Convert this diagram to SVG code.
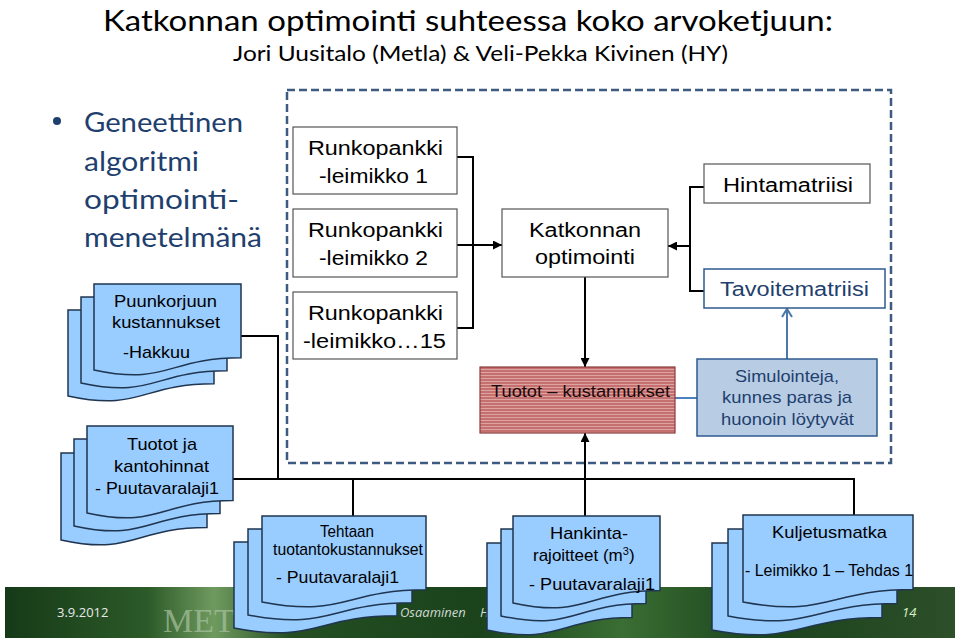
<svg xmlns="http://www.w3.org/2000/svg" width="959" height="642" viewBox="0 0 959 642">
<style>
.ttl{font-family:Lato,"Open Sans",sans-serif;fill:#000}
.bul{font-family:Lato,"Open Sans",sans-serif;fill:#1f3f6e;font-size:26px}
.doc{fill:#99ccff;stroke:#1f3550;stroke-width:1.5}
.dt{font-family:"Liberation Sans",Arial,sans-serif;fill:#000;font-size:17px}
.bx{fill:#fff;stroke:#555;stroke-width:1.2}
.bt{font-family:"Liberation Sans",Arial,sans-serif;fill:#000;font-size:20px}
.ln{fill:none;stroke:#000;stroke-width:2}
.ft{font-family:"Open Sans","Noto Sans",sans-serif;font-size:13px}
</style>
<defs>
<marker id="ah" markerUnits="userSpaceOnUse" markerWidth="9" markerHeight="9" refX="9" refY="4.5" orient="auto"><path d="M0,0 L9,4.5 L0,9 z" fill="#000"/></marker>
<marker id="ab" markerUnits="userSpaceOnUse" markerWidth="12" markerHeight="12" refX="10" refY="6" orient="auto"><path d="M2,1 L10,6 L2,11" fill="none" stroke="#4a78aa" stroke-width="2"/></marker>
<pattern id="stripe" width="4" height="3" patternUnits="userSpaceOnUse"><rect width="4" height="3" fill="#c66f6f"/><rect width="4" height="1" fill="#dca3a3"/></pattern>
<linearGradient id="foot" x1="0" x2="1" y1="0" y2="0">
<stop offset="0" stop-color="#163a18"/><stop offset="0.15" stop-color="#2c5a28"/><stop offset="0.22" stop-color="#6f9a5f"/><stop offset="0.3" stop-color="#244e22"/><stop offset="0.5" stop-color="#1a431c"/><stop offset="0.65" stop-color="#3a6e33"/><stop offset="0.8" stop-color="#1a431c"/><stop offset="1" stop-color="#2d4f2a"/>
</linearGradient>
</defs>
<rect width="959" height="642" fill="#fff"/>

<g id="footer">
<rect x="5" y="587" width="950" height="51" fill="url(#foot)"/>
<text class="ft" x="57" y="617" fill="#e8e8e8">3.9.2012</text>
<text x="163" y="632" font-family="'Liberation Serif',serif" font-size="34" fill="#a9c2a0" opacity="0.7">MET</text>
<text class="ft" x="400" y="617" fill="#d0d8d0" font-style="italic">Osaaminen</text>
<text class="ft" x="480" y="617" fill="#d0d8d0" font-style="italic">H</text>
<text class="ft" x="902" y="617" fill="#d8f0c8" font-style="italic">14</text>
</g>

<g id="title">
<text class="ttl" x="103" y="31" font-size="28" textLength="730" lengthAdjust="spacingAndGlyphs">Katkonnan optimointi suhteessa koko arvoketjuun:</text>
<text class="ttl" x="233" y="61" font-size="21" textLength="495" lengthAdjust="spacingAndGlyphs">Jori Uusitalo (Metla) &amp; Veli-Pekka Kivinen (HY)</text>
</g>

<g id="bullet">
<circle cx="57" cy="121" r="4" fill="#1f3f6e"/>
<text class="bul" x="84" y="132" textLength="159" lengthAdjust="spacingAndGlyphs">Geneettinen</text>
<text class="bul" x="84" y="171" textLength="115" lengthAdjust="spacingAndGlyphs">algoritmi</text>
<text class="bul" x="84" y="209" textLength="155" lengthAdjust="spacingAndGlyphs">optimointi-</text>
<text class="bul" x="84" y="247" textLength="178" lengthAdjust="spacingAndGlyphs">menetelmänä</text>
</g>

<rect id="frame" x="287" y="90" width="604" height="373" fill="none" stroke="#3d5a80" stroke-width="2.5" stroke-dasharray="8 4"/>

<g id="connectors">
<path class="ln" d="M457 157 H473 V328 H457"/>
<path class="ln" d="M457 245 H502" marker-end="url(#ah)"/>
<path class="ln" d="M704 187 H690 V291 H704"/>
<path class="ln" d="M690 246 H668" marker-end="url(#ah)"/>
<path class="ln" d="M585 277 V367" marker-end="url(#ah)"/>
<path class="ln" d="M585 516 V433" marker-end="url(#ah)"/>
<path d="M675 398 H697" fill="none" stroke="#4f81bd" stroke-width="2"/>
<path d="M787 359 V309" fill="none" stroke="#4a78aa" stroke-width="2" marker-end="url(#ab)"/>
<path class="ln" d="M241 336 H278 V479"/>
<path class="ln" d="M233 479 H854 V515"/>
<path class="ln" d="M353 479 V516"/>
</g>

<g id="puunkorjuu">
<path class="doc" d="M68 310 H214 V383.8 C141 383.8 141 411.9 68 395.9 Z"/>
<path class="doc" d="M81 297 H227 V370.8 C154 370.8 154 398.9 81 382.9 Z"/>
<path class="doc" d="M94 284 H241 V357.8 C167.5 357.8 167.5 385.9 94 369.9 Z"/>
<text class="dt" x="114" y="307" textLength="103" lengthAdjust="spacingAndGlyphs">Puunkorjuun</text>
<text class="dt" x="112" y="328" textLength="108" lengthAdjust="spacingAndGlyphs">kustannukset</text>
<text class="dt" x="123" y="358" textLength="67" lengthAdjust="spacingAndGlyphs">-Hakkuu</text>
</g>

<g id="tuotot-ja">
<path class="doc" d="M61 453 H207 V527.6 C134 527.6 134 556 61 539.9 Z"/>
<path class="doc" d="M74 439 H220 V513.6 C147 513.6 147 542 74 525.9 Z"/>
<path class="doc" d="M87 426 H233 V500.6 C160 500.6 160 529 87 512.9 Z"/>
<text class="dt" x="127" y="450" textLength="70" lengthAdjust="spacingAndGlyphs">Tuotot ja</text>
<text class="dt" x="114" y="472" textLength="95" lengthAdjust="spacingAndGlyphs">kantohinnat</text>
<text class="dt" x="95" y="494" textLength="124" lengthAdjust="spacingAndGlyphs">- Puutavaralaji1</text>
</g>

<g id="tehtaan">
<path class="doc" d="M234 542 H397 V615.8 C315.5 615.8 315.5 643.9 234 627.9 Z"/>
<path class="doc" d="M248 529 H412 V602.8 C330 602.8 330 630.9 248 614.9 Z"/>
<path class="doc" d="M262 516 H426 V589.8 C344 589.8 344 617.9 262 601.9 Z"/>
<text class="dt" x="320" y="537" font-size="14" textLength="54" lengthAdjust="spacingAndGlyphs">Tehtaan</text>
<text class="dt" x="273" y="555" font-size="14" textLength="150" lengthAdjust="spacingAndGlyphs">tuotantokustannukset</text>
<text class="dt" x="276" y="583" font-size="18" textLength="123" lengthAdjust="spacingAndGlyphs">- Puutavaralaji1</text>
</g>

<g id="hankinta">
<path class="doc" d="M487 543 H632 V617.6 C559.5 617.6 559.5 646 487 629.9 Z"/>
<path class="doc" d="M501 529 H646 V603.6 C573.5 603.6 573.5 632 501 615.9 Z"/>
<path class="doc" d="M513 516 H660 V590.6 C586.5 590.6 586.5 619 513 602.9 Z"/>
<text class="dt" x="550" y="539" textLength="78" lengthAdjust="spacingAndGlyphs">Hankinta-</text>
<text class="dt" x="533" y="561">rajoitteet (m<tspan font-size="11" dy="-6">3</tspan><tspan dy="6">)</tspan></text>
<text class="dt" x="529" y="590" textLength="126" lengthAdjust="spacingAndGlyphs">- Puutavaralaji1</text>
</g>

<g id="kuljetus">
<path class="doc" d="M712 543 H882 V617.6 C797 617.6 797 646 712 629.9 Z"/>
<path class="doc" d="M728 529 H897 V603.6 C812.5 603.6 812.5 632 728 615.9 Z"/>
<path class="doc" d="M743 515 H913 V589.6 C828 589.6 828 618 743 601.9 Z"/>
<text class="dt" x="772" y="538" textLength="115" lengthAdjust="spacingAndGlyphs">Kuljetusmatka</text>
<text class="dt" x="745" y="576" font-size="15" textLength="168" lengthAdjust="spacingAndGlyphs">- Leimikko 1 – Tehdas 1</text>
</g>

<g id="runko1">
<rect class="bx" x="293" y="127" width="164" height="67"/>
<text class="bt" x="308" y="155" textLength="135" lengthAdjust="spacingAndGlyphs">Runkopankki</text>
<text class="bt" x="319" y="183" textLength="109" lengthAdjust="spacingAndGlyphs">-leimikko 1</text>
</g>
<g id="runko2">
<rect class="bx" x="293" y="209" width="164" height="68"/>
<text class="bt" x="308" y="237" textLength="135" lengthAdjust="spacingAndGlyphs">Runkopankki</text>
<text class="bt" x="319" y="265" textLength="109" lengthAdjust="spacingAndGlyphs">-leimikko 2</text>
</g>
<g id="runko15">
<rect class="bx" x="293" y="292" width="164" height="67"/>
<text class="bt" x="308" y="320" textLength="135" lengthAdjust="spacingAndGlyphs">Runkopankki</text>
<text class="bt" x="303" y="348" textLength="143" lengthAdjust="spacingAndGlyphs">-leimikko…15</text>
</g>

<g id="katkonnan">
<rect class="bx" x="502" y="209" width="166" height="68"/>
<text class="bt" x="529" y="237" textLength="112" lengthAdjust="spacingAndGlyphs">Katkonnan</text>
<text class="bt" x="535" y="264" textLength="100" lengthAdjust="spacingAndGlyphs">optimointi</text>
</g>

<g id="hintamatriisi">
<rect class="bx" x="704" y="164" width="166" height="39"/>
<text class="bt" x="723" y="192" textLength="130" lengthAdjust="spacingAndGlyphs">Hintamatriisi</text>
</g>

<g id="tavoitematriisi">
<rect x="704" y="269" width="181" height="39" fill="#fff" stroke="#2e5a8e" stroke-width="1.5"/>
<text class="bt" x="720" y="296" style="fill:#1f3f6e" textLength="149" lengthAdjust="spacingAndGlyphs">Tavoitematriisi</text>
</g>

<g id="simulointeja">
<rect x="697" y="359" width="180" height="77" fill="#b8cce4" stroke="#2e5a8e" stroke-width="1.5"/>
<text class="dt" x="735" y="382" font-size="15" style="fill:#1f3f6e" textLength="104" lengthAdjust="spacingAndGlyphs">Simulointeja,</text>
<text class="dt" x="722" y="403" font-size="15" style="fill:#1f3f6e" textLength="130" lengthAdjust="spacingAndGlyphs">kunnes paras ja</text>
<text class="dt" x="721" y="425" font-size="15" style="fill:#1f3f6e" textLength="133" lengthAdjust="spacingAndGlyphs">huonoin löytyvät</text>
</g>

<g id="tuotot-kustannukset">
<rect x="480" y="367" width="195" height="66" fill="url(#stripe)" stroke="#8b3a3a" stroke-width="1.2"/>
<text class="dt" x="491" y="397" font-size="17" style="fill:#1a0a0a" textLength="179" lengthAdjust="spacingAndGlyphs">Tuotot – kustannukset</text>
</g>
</svg>
